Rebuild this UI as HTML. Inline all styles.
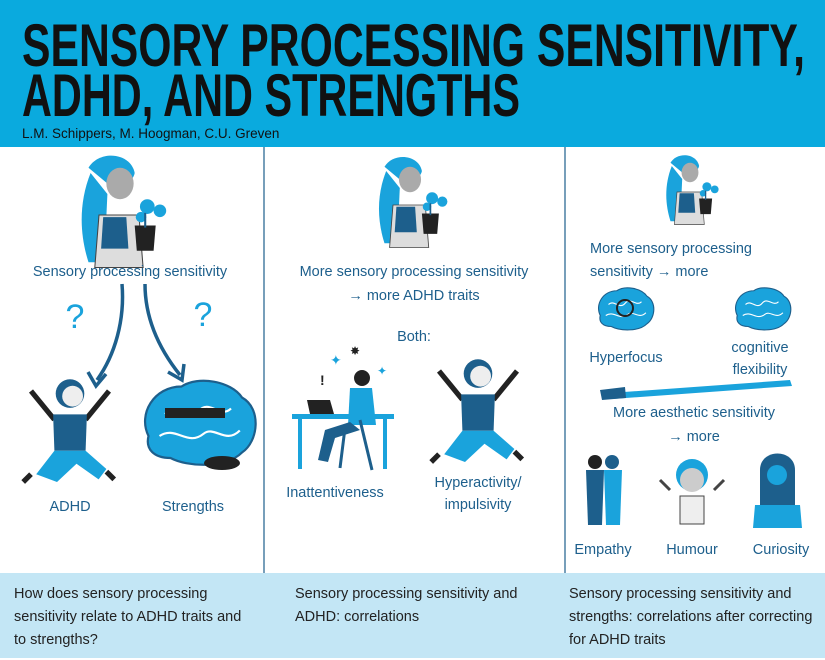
<!DOCTYPE html>
<html><head><meta charset="utf-8"><style>
html,body{margin:0;padding:0;width:825px;height:660px;overflow:hidden;background:#fff}
svg{display:block}
.t{font-family:"Liberation Sans Narrow","Liberation Sans",sans-serif;font-size:14.5px;fill:#1d5f8c}
.b{font-family:"Liberation Sans Narrow","Liberation Sans",sans-serif;font-size:14.5px;fill:#222}
</style></head><body>
<svg width="825" height="660" viewBox="0 0 825 660" xmlns="http://www.w3.org/2000/svg">
<defs>
<g id="woman">
 <path d="M-28,-40 C-40,-10 -38,20 -30,45 L-15,45 L-12,-20 Z" fill="#1aa3dc"/>
 <path d="M-30,-45 C-20,-62 10,-60 14,-40 C12,-30 0,-28 -12,-30 Z" fill="#1aa3dc"/>
 <ellipse cx="0" cy="-30" rx="13" ry="15" fill="#aaa"/>
 <path d="M-20,0 L18,0 L22,50 L-24,50 Z" fill="#ddd" stroke="#444" stroke-width="1"/>
 <path d="M-16,2 L6,2 L8,32 L-18,32 Z" fill="#1d5f8c"/>
 <path d="M14,10 L34,10 L32,34 L16,34 Z" fill="#222"/>
 <circle cx="26" cy="-8" r="7" fill="#1aa3dc"/><circle cx="38" cy="-4" r="6" fill="#1aa3dc"/><circle cx="20" cy="2" r="5" fill="#1aa3dc"/>
 <path d="M24,-2 L24,12" stroke="#1d5f8c" stroke-width="2"/>
</g>
<g id="brain">
 <path d="M-45,10 C-55,-10 -40,-35 -15,-35 C0,-45 30,-40 40,-25 C58,-15 55,15 40,25 C25,40 -10,38 -25,30 C-40,30 -48,22 -45,10 Z" fill="#1aa3dc" stroke="#1d5f8c" stroke-width="2"/>
 <path d="M-30,-10 C-20,-20 -10,0 0,-12 C10,-25 20,-5 30,-15 M-35,10 C-20,0 -10,20 5,8 C15,0 25,18 38,5" fill="none" stroke="#fff" stroke-width="2"/>
</g>
<g id="kid">
 <path d="M-30,-30 L-12,-8 M30,-30 L12,-8" stroke="#222" stroke-width="4"/>
 <circle cx="0" cy="-28" r="11" fill="#1d5f8c"/><circle cx="2" cy="-26" r="8" fill="#eee"/>
 <path d="M-13,-12 L13,-12 L12,16 L-12,16 Z" fill="#1d5f8c"/>
 <path d="M-12,16 L12,16 L28,30 L22,38 L5,26 L-10,40 L-26,34 Z" fill="#1aa3dc"/>
 <path d="M-30,34 l-6,6 M28,32 l6,6" stroke="#222" stroke-width="4"/>
</g>
</defs>
<rect x="0" y="0" width="825" height="147" fill="#0aaade"/>
<text x="22" y="66" textLength="783" lengthAdjust="spacingAndGlyphs" font-family="'Liberation Sans Narrow','Liberation Sans',sans-serif" font-weight="bold" font-size="60" fill="#111">SENSORY PROCESSING SENSITIVITY,</text>
<text x="22" y="116" textLength="498" lengthAdjust="spacingAndGlyphs" font-family="'Liberation Sans Narrow','Liberation Sans',sans-serif" font-weight="bold" font-size="60" fill="#111">ADHD, AND STRENGTHS</text>
<text x="22" y="138" font-family="'Liberation Sans Narrow','Liberation Sans',sans-serif" font-size="13.5" fill="#111">L.M. Schippers, M. Hoogman, C.U. Greven</text>
<line x1="264" y1="147" x2="264" y2="573" stroke="#1d5f8c" stroke-width="1.2"/>
<line x1="565" y1="147" x2="565" y2="573" stroke="#1d5f8c" stroke-width="1.2"/>
<rect x="0" y="573" width="825" height="85" fill="#c3e6f5"/>

<!-- col1 -->
<use href="#woman" transform="translate(120,215) scale(1.05)"/>
<text class="t" x="130" y="276" text-anchor="middle">Sensory processing sensitivity</text>
<text x="75" y="328" font-family="Liberation Sans,sans-serif" font-size="34" fill="#1aa3dc" text-anchor="middle">?</text>
<text x="203" y="326" font-family="Liberation Sans,sans-serif" font-size="34" fill="#1aa3dc" text-anchor="middle">?</text>
<path d="M122,284 C125,320 115,355 97,380" fill="none" stroke="#1d5f8c" stroke-width="3.5"/>
<path d="M88,372 L96,386 L106,374" fill="none" stroke="#1d5f8c" stroke-width="3.5"/>
<path d="M145,284 C145,320 160,350 180,375" fill="none" stroke="#1d5f8c" stroke-width="3.5"/>
<path d="M168,372 L182,380 L184,364" fill="none" stroke="#1d5f8c" stroke-width="3.5"/>
<use href="#kid" transform="translate(70,430) scale(1.3)"/>
<use href="#brain" transform="translate(198,425) scale(1.1)"/>
<rect x="165" y="408" width="60" height="10" fill="#222"/>
<ellipse cx="222" cy="463" rx="18" ry="7" fill="#222"/>
<text class="t" x="70" y="511" text-anchor="middle">ADHD</text>
<text class="t" x="193" y="511" text-anchor="middle">Strengths</text>

<!-- col2 -->
<use href="#woman" transform="translate(410,205) scale(0.85)"/>
<text class="t" x="414" y="276" text-anchor="middle">More sensory processing sensitivity</text>
<text class="t" x="414" y="300" text-anchor="middle">→ more ADHD traits</text>
<text class="t" x="414" y="341" text-anchor="middle">Both:</text>
<rect x="292" y="414" width="102" height="5" fill="#1aa3dc"/>
<rect x="298" y="419" width="4" height="50" fill="#1aa3dc"/><rect x="383" y="419" width="4" height="50" fill="#1aa3dc"/>
<path d="M307,400 L330,400 L334,414 L310,414 Z" fill="#222"/>
<circle cx="362" cy="378" r="8" fill="#222"/>
<path d="M350,388 L372,388 L376,425 L348,425 Z" fill="#1aa3dc"/>
<path d="M350,422 L325,430 L318,460 L328,462 L335,438 L360,430 Z" fill="#1d5f8c"/>
<path d="M360,420 L372,470 M345,428 L340,468" stroke="#1d5f8c" stroke-width="3"/>
<text x="330" y="365" font-size="14" fill="#1aa3dc" font-family="Liberation Sans,sans-serif">✦</text>
<text x="350" y="355" font-size="12" fill="#222" font-family="Liberation Sans,sans-serif">✸</text>
<text x="320" y="385" font-size="14" fill="#222" font-family="Liberation Sans,sans-serif" font-weight="bold">!</text>
<text x="377" y="375" font-size="12" fill="#1aa3dc" font-family="Liberation Sans,sans-serif">✦</text>
<use href="#kid" transform="translate(478,410) scale(1.3)"/>
<text class="t" x="335" y="497" text-anchor="middle">Inattentiveness</text>
<text class="t" x="478" y="487" text-anchor="middle">Hyperactivity/</text>
<text class="t" x="478" y="509" text-anchor="middle">impulsivity</text>

<!-- col3 -->
<use href="#woman" transform="translate(690,192) scale(0.65)"/>
<text class="t" x="590" y="253">More sensory processing</text>
<text class="t" x="590" y="276">sensitivity → more</text>
<use href="#brain" transform="translate(625,310) scale(0.55)"/>
<circle cx="625" cy="308" r="8" fill="none" stroke="#222" stroke-width="2"/>
<use href="#brain" transform="translate(762,310) scale(0.55)"/>
<text class="t" x="626" y="362" text-anchor="middle">Hyperfocus</text>
<text class="t" x="760" y="352" text-anchor="middle">cognitive</text>
<text class="t" x="760" y="374" text-anchor="middle">flexibility</text>
<path d="M610,393 L790,380 L792,386 L612,399 Z" fill="#1aa3dc"/>
<path d="M600,390 L625,387 L626,398 L602,400 Z" fill="#1d5f8c"/>
<text class="t" x="694" y="417" text-anchor="middle">More aesthetic sensitivity</text>
<text class="t" x="694" y="441" text-anchor="middle">→ more</text>
<circle cx="595" cy="462" r="7" fill="#222"/><circle cx="612" cy="462" r="7" fill="#1d5f8c"/>
<path d="M586,470 L604,470 L602,525 L588,525 Z" fill="#1d5f8c"/>
<path d="M604,470 L622,470 L620,525 L606,525 Z" fill="#1aa3dc"/>
<circle cx="692" cy="475" r="16" fill="#1aa3dc"/><circle cx="692" cy="480" r="12" fill="#ccc"/>
<rect x="680" y="496" width="24" height="28" fill="#eee" stroke="#444"/>
<path d="M660,480 l10,10 M724,480 l-10,10" stroke="#444" stroke-width="3"/>
<path d="M760,470 C760,448 795,448 795,470 L795,505 L760,505 Z" fill="#1d5f8c"/>
<circle cx="777" cy="475" r="10" fill="#1aa3dc"/>
<path d="M755,505 L800,505 L802,528 L753,528 Z" fill="#1aa3dc"/>
<text class="t" x="603" y="554" text-anchor="middle">Empathy</text>
<text class="t" x="692" y="554" text-anchor="middle">Humour</text>
<text class="t" x="781" y="554" text-anchor="middle">Curiosity</text>

<!-- bottom -->
<text class="b" x="14" y="598">How does sensory processing</text>
<text class="b" x="14" y="621">sensitivity relate to ADHD traits and</text>
<text class="b" x="14" y="644">to strengths?</text>
<text class="b" x="295" y="598">Sensory processing sensitivity and</text>
<text class="b" x="295" y="621">ADHD: correlations</text>
<text class="b" x="569" y="598">Sensory processing sensitivity and</text>
<text class="b" x="569" y="621">strengths: correlations after correcting</text>
<text class="b" x="569" y="644">for ADHD traits</text>
</svg>
</body></html>
